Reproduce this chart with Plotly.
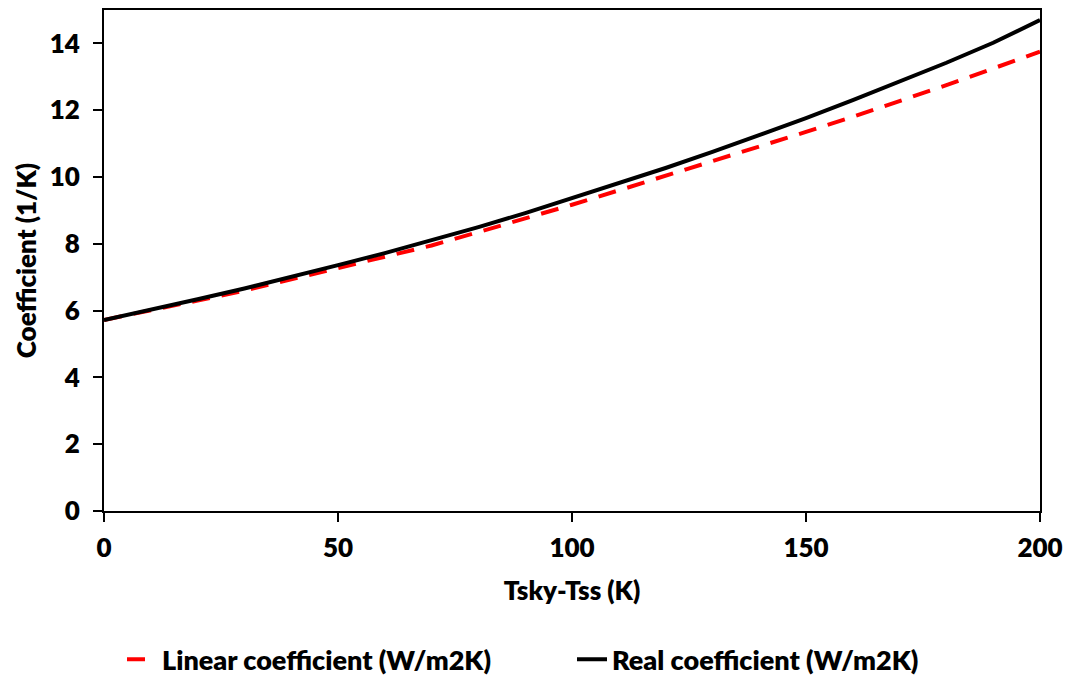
import plotly.graph_objects as go

x_vals = [0, 10, 20, 30, 40, 50, 60, 70, 80, 90, 100, 110, 120, 130, 140, 150, 160, 170, 180, 190, 200]
linear_coef = [5.72, 6.0, 6.3, 6.6, 6.93, 7.27, 7.6, 7.95, 8.35, 8.75, 9.17, 9.6, 10.03, 10.47, 10.9, 11.35, 11.8, 12.27, 12.75, 13.25, 13.75]
real_coef = [5.72, 6.02, 6.34, 6.66, 7.0, 7.36, 7.72, 8.1, 8.5, 8.92, 9.36, 9.8, 10.27, 10.75, 11.25, 11.76, 12.3, 12.85, 13.42, 14.02, 14.7]
x_ticks = [0, 50, 100, 150, 200]
y_ticks = [0, 2, 4, 6, 8, 10, 12, 14]

FAM = "Lato, Carlito, Arial"
def f(size):
    return dict(family=FAM, size=size, color="black", weight=800)

fig = go.Figure()
fig.add_trace(go.Scatter(x=x_vals, y=linear_coef, mode="lines", name="Linear coefficient (W/m2K)",
                         line=dict(color="#ff0000", width=4, dash="18px,12px")))
fig.add_trace(go.Scatter(x=x_vals, y=real_coef, mode="lines", name="Real coefficient (W/m2K)",
                         line=dict(color="black", width=4)))

fig.update_layout(
    width=1069, height=676,
    margin=dict(l=104, r=29, t=10, b=165, autoexpand=False),
    plot_bgcolor="white", paper_bgcolor="white",
    font=f(26),
    legend=dict(orientation="h", x=0.5, xanchor="center", y=-0.297, yanchor="middle",
                font=f(27), tracegroupgap=0, entrywidth=405, entrywidthmode="pixels"),
    xaxis=dict(range=[0, 200], tickvals=x_ticks, showgrid=False, zeroline=False,
               showline=True, linecolor="black", linewidth=2, mirror=True,
               ticks="outside", ticklen=9, tickwidth=1.5, tickcolor="black",
               ticklabelstandoff=4,
               title=dict(text="Tsky-Tss (K)", standoff=20, font=f(26)),
               tickfont=f(26)),
    yaxis=dict(range=[0, 15], tickvals=y_ticks, showgrid=False, zeroline=False,
               showline=True, linecolor="black", linewidth=2, mirror=True,
               ticks="outside", ticklen=9, tickwidth=1.5, tickcolor="black",
               ticklabelstandoff=8,
               title=dict(text="Coefficient (1/K)", standoff=6, font=f(26)),
               tickfont=f(26)),
)

fig.write_html("out.html")
